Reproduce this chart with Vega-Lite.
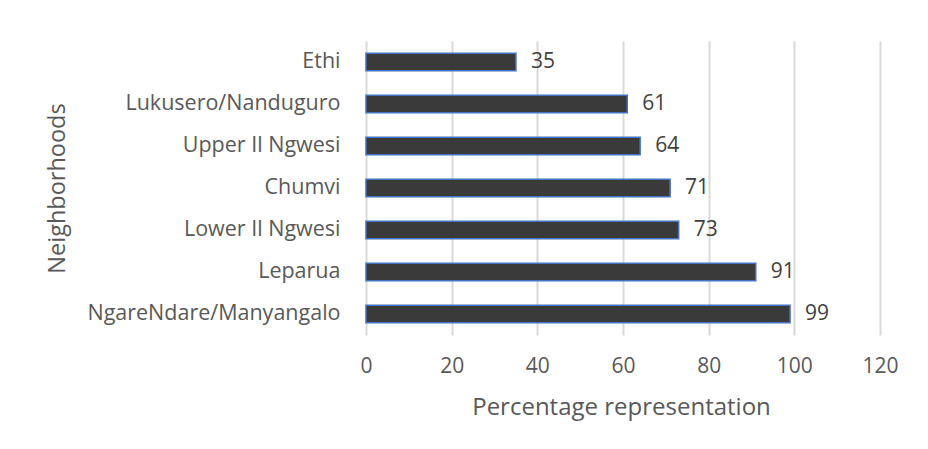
{
  "$schema": "https://vega.github.io/schema/vega-lite/v6.json",
  "width": 514,
  "height": 294,
  "autosize": {"type": "none"},
  "padding": {"left": 366, "top": 41, "right": 48, "bottom": 114},
  "background": "white",
  "config": {
    "view": {"stroke": null},
    "font": "Open Sans"
  },
  "data": {
    "values": [
      {"neighborhood": "Ethi", "pct": 35},
      {"neighborhood": "Lukusero/Nanduguro", "pct": 61},
      {"neighborhood": "Upper Il Ngwesi", "pct": 64},
      {"neighborhood": "Chumvi", "pct": 71},
      {"neighborhood": "Lower Il Ngwesi", "pct": 73},
      {"neighborhood": "Leparua", "pct": 91},
      {"neighborhood": "NgareNdare/Manyangalo", "pct": 99}
    ]
  },
  "encoding": {
    "y": {
      "field": "neighborhood",
      "type": "nominal",
      "sort": null,
      "scale": {"paddingInner": 0.585, "paddingOuter": 0.29},
      "axis": {
        "title": "Neighborhoods",
        "titleFont": "Open Sans",
        "titleFontSize": 23.5,
        "titleFontWeight": "normal",
        "titleColor": "#595959",
        "titleX": -309,
        "titleY": 147,
        "titleAngle": -90,
        "titleAlign": "center",
        "titleBaseline": "middle",
        "labelFont": "Open Sans",
        "labelFontSize": 21.5,
        "labelColor": "#595959",
        "labelPadding": 26,
        "labelLimit": 400,
        "ticks": false,
        "domain": false
      }
    },
    "x": {
      "field": "pct",
      "type": "quantitative",
      "scale": {"domain": [0, 120]},
      "axis": {
        "values": [0, 20, 40, 60, 80, 100, 120],
        "title": "Percentage representation",
        "titleFont": "Open Sans",
        "titleFontSize": 24,
        "titleFontWeight": "normal",
        "titleColor": "#595959",
        "titleX": 255,
        "titleY": 72,
        "titleAlign": "center",
        "titleBaseline": "middle",
        "labelFont": "Open Sans",
        "labelFontSize": 21,
        "labelColor": "#595959",
        "labelPadding": 20,
        "labelFlush": false,
        "ticks": false,
        "domain": false,
        "grid": true,
        "gridColor": "#d9d9d9",
        "gridWidth": 2
      }
    }
  },
  "layer": [
    {
      "mark": {"type": "bar", "fill": "#3a3a3a", "stroke": "#4472C4", "strokeWidth": 1.5}
    },
    {
      "mark": {"type": "text", "align": "left", "baseline": "middle", "dx": 15, "fontSize": 21, "font": "Open Sans", "color": "#404040"},
      "encoding": {"text": {"field": "pct", "type": "quantitative"}}
    }
  ]
}
